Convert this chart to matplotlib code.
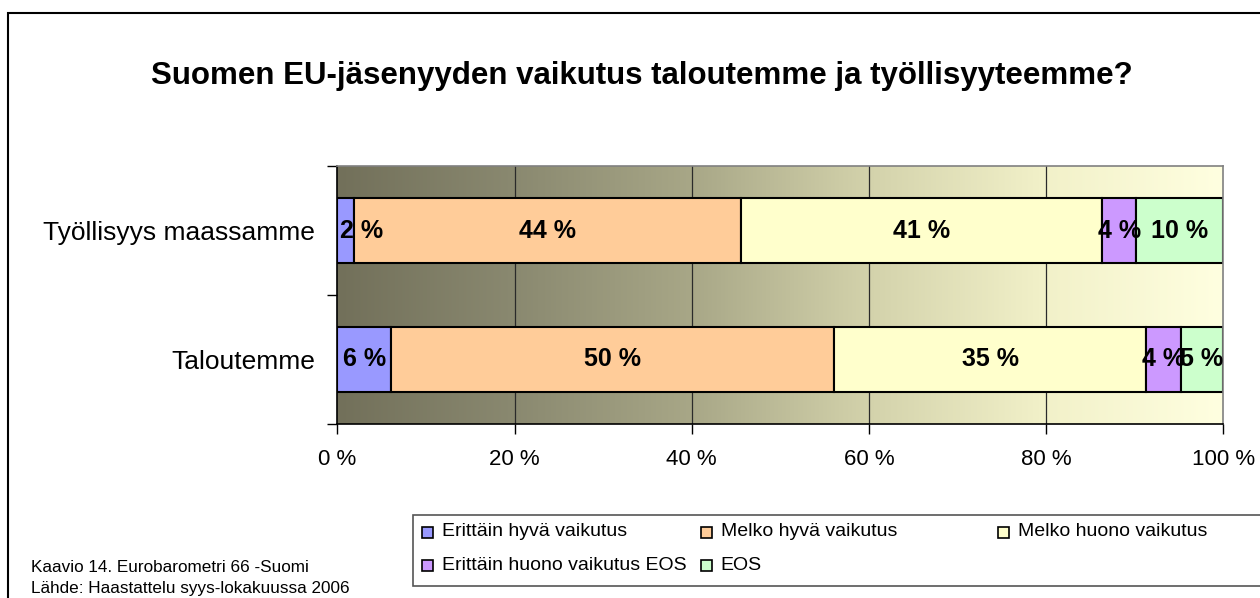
import matplotlib
matplotlib.use("Agg")
import matplotlib.pyplot as plt
import numpy as np
from matplotlib.patches import Rectangle
from matplotlib.colors import LinearSegmentedColormap

plt.rcParams['font.family'] = ['Liberation Sans', 'DejaVu Sans']

# ---- data ----
title = "Suomen EU-jäsenyyden vaikutus taloutemme ja työllisyyteemme?"
categories = ["Taloutemme", "Työllisyys maassamme"]
series_names = ["Erittäin hyvä vaikutus", "Melko hyvä vaikutus", "Melko huono vaikutus",
                "Erittäin huono vaikutus EOS", "EOS"]
# values per series: [Taloutemme, Työllisyys maassamme]
erittain_hyva = [6.1, 1.9]
melko_hyva = [50.0, 43.7]
melko_huono = [35.2, 40.7]
erittain_huono = [3.9, 3.9]
eos = [4.8, 9.8]
series_values = [erittain_hyva, melko_hyva, melko_huono, erittain_huono, eos]
colors = ["#9999FF", "#FFCC99", "#FFFFCC", "#CC99FF", "#CCFFCC"]
xticks = [0, 20, 40, 60, 80, 100]
xticklabels = ["0 %", "20 %", "40 %", "60 %", "80 %", "100 %"]
footnote = ["Kaavio 14. Eurobarometri 66 -Suomi", "Lähde: Haastattelu syys-lokakuussa 2006"]

W, H = 1260, 598
fig = plt.figure(figsize=(W / 100, H / 100), dpi=100)
fig.patch.set_facecolor("white")

def fx(px):
    return px / W

def fy(py):
    return 1 - py / H

# outer frame
fig.patches.append(Rectangle((fx(8), fy(640)), fx(1300), (640 - 13) / H, transform=fig.transFigure,
                             fill=False, edgecolor="black", linewidth=1.5, zorder=0))

ax = fig.add_axes([fx(337.3), fy(424), fx(1223.3 - 337.3), (424 - 166) / H])
ax.set_xlim(0, 100)
ax.set_ylim(-0.5, 1.5)

# gradient background
cmap = LinearSegmentedColormap.from_list("bg", [
    (0.0, "#72705A"), (0.2, "#8A8970"), (0.4, "#A8A787"), (0.6, "#D3D2AB"),
    (0.8, "#F2F1C9"), (1.0, "#FFFFE0")])
grad = np.linspace(0, 1, 512).reshape(1, -1)
ax.imshow(grad, extent=[0, 100, -0.5, 1.5], aspect="auto", cmap=cmap, zorder=0,
          interpolation="bicubic")

for xv in xticks[1:-1]:
    ax.axvline(xv, color="#2a2a2a", linewidth=0.9, zorder=1)

renderer = fig.canvas.get_renderer()
px_per_unit = (1223.3 - 337.3) / 100.0

y = np.arange(len(categories))
left = np.zeros(len(categories))
for vals, col in zip(series_values, colors):
    vals = np.array(vals)
    ax.barh(y, vals, left=left, height=0.5, color=col, edgecolor="black", linewidth=1.5, zorder=2)
    for yi, (l, v) in enumerate(zip(left, vals)):
        t = ax.text(l + v / 2, yi, f"{round(v):.0f} %", ha="center", va="center",
                    fontsize=18, fontweight="bold", zorder=3)
        half = t.get_window_extent(renderer).width / 2 / px_per_unit
        if l + v / 2 - half < 0:
            t.set_x(half + 0.25)
    left = left + vals

ax.set_xticks(xticks)
ax.set_xticklabels(xticklabels, fontsize=16)
ax.tick_params(axis="x", direction="out", length=7, width=1, pad=11)
ax.set_yticks(y)
ax.set_yticklabels(categories, fontsize=19)
ax.tick_params(axis="y", which="major", length=0, pad=16)
ax.set_yticks([-0.5, 0.5, 1.5], minor=True)
ax.tick_params(axis="y", which="minor", direction="out", length=7, width=1)
for s in ["top", "right"]:
    ax.spines[s].set_color("#808080")
    ax.spines[s].set_linewidth(1.2)
for s in ["left", "bottom"]:
    ax.spines[s].set_color("black")
    ax.spines[s].set_linewidth(1.2)

# title
fig.text(fx(642), fy(76), title, ha="center", va="center", fontsize=22.5, fontweight="bold")

# legend (Excel-style, row-major)
fig.patches.append(Rectangle((fx(413), fy(586)), fx(1300 - 413), (586 - 515) / H,
                             transform=fig.transFigure, fill=True, facecolor="white",
                             edgecolor="#555555", linewidth=1.2, zorder=1))
row_y = [532, 565]
leg_fs = 14
col_x = [422, None, 998]
probe = fig.text(0, 0, series_names[3], fontsize=leg_fs)
col_x[1] = 442 + probe.get_window_extent(renderer).width + 14
probe.remove()
for i, (name, col) in enumerate(zip(series_names, colors)):
    r, c = divmod(i, 3)
    mx, my = col_x[c], row_y[r]
    fig.patches.append(Rectangle((fx(mx), fy(my + 5.5)), fx(11), 11 / H, transform=fig.transFigure,
                                 facecolor=col, edgecolor="black", linewidth=1.2, zorder=2))
    fig.text(fx(mx + 20), fy(my), name, ha="left", va="center", fontsize=leg_fs, zorder=3)

# footnote
for k, line in enumerate(footnote):
    fig.text(fx(31), fy(567 + 22 * k), line, ha="left", va="center", fontsize=12.3)

fig.savefig("out.png", dpi=100)
